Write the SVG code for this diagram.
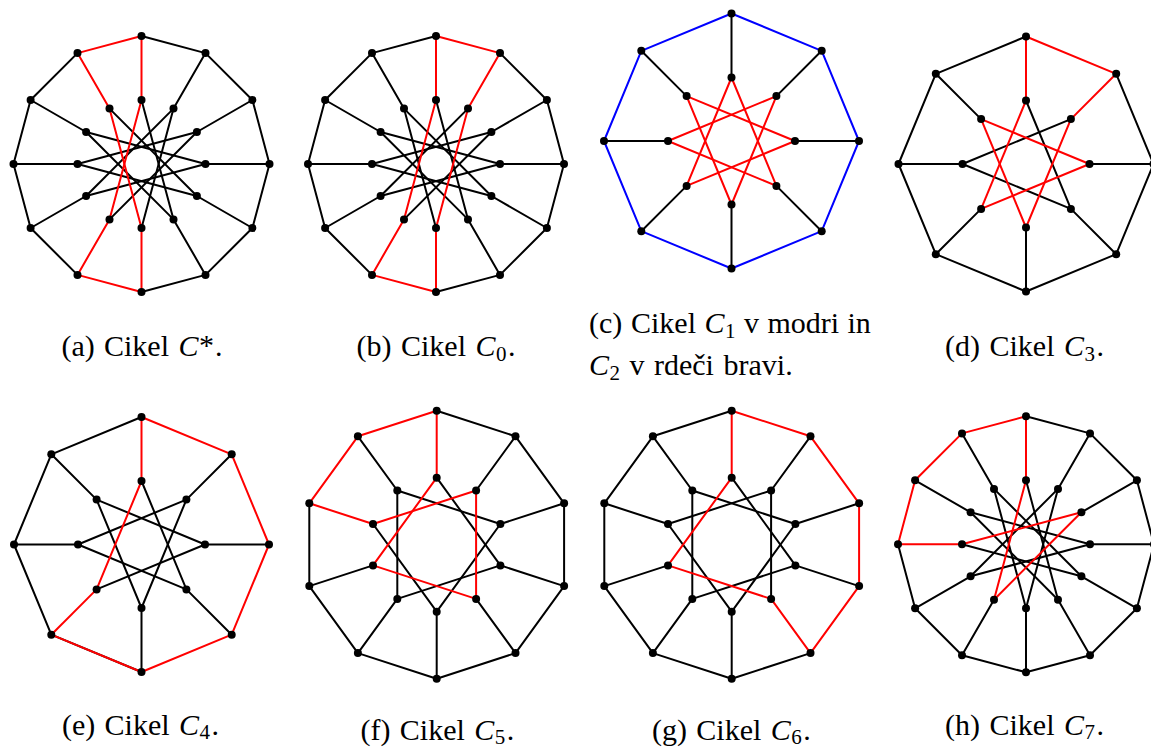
<svg xmlns="http://www.w3.org/2000/svg" width="1151" height="747" viewBox="0 0 1151 747">
<style>
line{stroke-width:2;stroke-linecap:round;fill:none}
.k{stroke:#000}.r{stroke:#f00}.b{stroke:#00f}
circle{fill:#000}
.t{font-family:'Liberation Serif','DejaVu Serif',serif;font-size:30px;fill:#000}
.m{font-style:italic}
.s{font-size:21px}
</style>
<rect width="1151" height="747" fill="#fff"/>

<!-- (a) GP(12,5) -->
<g id="graph-a" transform="translate(141.5,164)">
<g id="a-edges">
<line class="k" x1="0" y1="-128" x2="64" y2="-110.9"/>
<line class="k" x1="64" y1="-110.9" x2="110.9" y2="-64"/>
<line class="k" x1="110.9" y1="-64" x2="128" y2="0"/>
<line class="k" x1="128" y1="0" x2="110.9" y2="64"/>
<line class="k" x1="110.9" y1="64" x2="64" y2="110.9"/>
<line class="k" x1="64" y1="110.9" x2="0" y2="128"/>
<line class="k" x1="-64" y1="110.9" x2="-110.9" y2="64"/>
<line class="k" x1="-110.9" y1="64" x2="-128" y2="0"/>
<line class="k" x1="-128" y1="0" x2="-110.9" y2="-64"/>
<line class="k" x1="-110.9" y1="-64" x2="-64" y2="-110.9"/>
<line class="k" x1="64" y1="-110.9" x2="32" y2="-55.4"/>
<line class="k" x1="110.9" y1="-64" x2="55.4" y2="-32"/>
<line class="k" x1="128" y1="0" x2="64" y2="0"/>
<line class="k" x1="110.9" y1="64" x2="55.4" y2="32"/>
<line class="k" x1="64" y1="110.9" x2="32" y2="55.4"/>
<line class="k" x1="-110.9" y1="64" x2="-55.4" y2="32"/>
<line class="k" x1="-128" y1="0" x2="-64" y2="0"/>
<line class="k" x1="-110.9" y1="-64" x2="-55.4" y2="-32"/>
<line class="k" x1="0" y1="-64" x2="32" y2="55.4"/>
<line class="k" x1="32" y1="-55.4" x2="0" y2="64"/>
<line class="k" x1="55.4" y1="-32" x2="-32" y2="55.4"/>
<line class="k" x1="64" y1="0" x2="-55.4" y2="32"/>
<line class="k" x1="55.4" y1="32" x2="-64" y2="0"/>
<line class="k" x1="32" y1="55.4" x2="-55.4" y2="-32"/>
<line class="k" x1="-55.4" y1="32" x2="32" y2="-55.4"/>
<line class="k" x1="-64" y1="0" x2="55.4" y2="-32"/>
<line class="k" x1="-55.4" y1="-32" x2="64" y2="0"/>
<line class="k" x1="-32" y1="-55.4" x2="55.4" y2="32"/>
<line class="r" x1="0" y1="128" x2="-64" y2="110.9"/>
<line class="r" x1="-64" y1="-110.9" x2="0" y2="-128"/>
<line class="r" x1="0" y1="-128" x2="0" y2="-64"/>
<line class="r" x1="0" y1="128" x2="0" y2="64"/>
<line class="r" x1="-64" y1="110.9" x2="-32" y2="55.4"/>
<line class="r" x1="-64" y1="-110.9" x2="-32" y2="-55.4"/>
<line class="r" x1="0" y1="64" x2="-32" y2="-55.4"/>
<line class="r" x1="-32" y1="55.4" x2="0" y2="-64"/>
</g>
<g id="a-o0"><circle cx="0" cy="-128" r="4"/></g>
<g id="a-o1"><circle cx="64" cy="-110.9" r="4"/></g>
<g id="a-o2"><circle cx="110.9" cy="-64" r="4"/></g>
<g id="a-o3"><circle cx="128" cy="0" r="4"/></g>
<g id="a-o4"><circle cx="110.9" cy="64" r="4"/></g>
<g id="a-o5"><circle cx="64" cy="110.9" r="4"/></g>
<g id="a-o6"><circle cx="0" cy="128" r="4"/></g>
<g id="a-o7"><circle cx="-64" cy="110.9" r="4"/></g>
<g id="a-o8"><circle cx="-110.9" cy="64" r="4"/></g>
<g id="a-o9"><circle cx="-128" cy="0" r="4"/></g>
<g id="a-o10"><circle cx="-110.9" cy="-64" r="4"/></g>
<g id="a-o11"><circle cx="-64" cy="-110.9" r="4"/></g>
<g id="a-i0"><circle cx="0" cy="-64" r="4"/></g>
<g id="a-i1"><circle cx="32" cy="-55.4" r="4"/></g>
<g id="a-i2"><circle cx="55.4" cy="-32" r="4"/></g>
<g id="a-i3"><circle cx="64" cy="0" r="4"/></g>
<g id="a-i4"><circle cx="55.4" cy="32" r="4"/></g>
<g id="a-i5"><circle cx="32" cy="55.4" r="4"/></g>
<g id="a-i6"><circle cx="0" cy="64" r="4"/></g>
<g id="a-i7"><circle cx="-32" cy="55.4" r="4"/></g>
<g id="a-i8"><circle cx="-55.4" cy="32" r="4"/></g>
<g id="a-i9"><circle cx="-64" cy="0" r="4"/></g>
<g id="a-i10"><circle cx="-55.4" cy="-32" r="4"/></g>
<g id="a-i11"><circle cx="-32" cy="-55.4" r="4"/></g>
</g>

<!-- (b) GP(12,5) -->
<g id="graph-b" transform="translate(436,164)">
<g id="b-edges">
<line class="k" x1="64" y1="-110.9" x2="110.9" y2="-64"/>
<line class="k" x1="110.9" y1="-64" x2="128" y2="0"/>
<line class="k" x1="128" y1="0" x2="110.9" y2="64"/>
<line class="k" x1="110.9" y1="64" x2="64" y2="110.9"/>
<line class="k" x1="64" y1="110.9" x2="0" y2="128"/>
<line class="k" x1="-64" y1="110.9" x2="-110.9" y2="64"/>
<line class="k" x1="-110.9" y1="64" x2="-128" y2="0"/>
<line class="k" x1="-128" y1="0" x2="-110.9" y2="-64"/>
<line class="k" x1="-110.9" y1="-64" x2="-64" y2="-110.9"/>
<line class="k" x1="-64" y1="-110.9" x2="0" y2="-128"/>
<line class="k" x1="110.9" y1="-64" x2="55.4" y2="-32"/>
<line class="k" x1="128" y1="0" x2="64" y2="0"/>
<line class="k" x1="110.9" y1="64" x2="55.4" y2="32"/>
<line class="k" x1="64" y1="110.9" x2="32" y2="55.4"/>
<line class="k" x1="-110.9" y1="64" x2="-55.4" y2="32"/>
<line class="k" x1="-128" y1="0" x2="-64" y2="0"/>
<line class="k" x1="-110.9" y1="-64" x2="-55.4" y2="-32"/>
<line class="k" x1="-64" y1="-110.9" x2="-32" y2="-55.4"/>
<line class="k" x1="0" y1="-64" x2="32" y2="55.4"/>
<line class="k" x1="55.4" y1="-32" x2="-32" y2="55.4"/>
<line class="k" x1="64" y1="0" x2="-55.4" y2="32"/>
<line class="k" x1="55.4" y1="32" x2="-64" y2="0"/>
<line class="k" x1="32" y1="55.4" x2="-55.4" y2="-32"/>
<line class="k" x1="0" y1="64" x2="-32" y2="-55.4"/>
<line class="k" x1="-55.4" y1="32" x2="32" y2="-55.4"/>
<line class="k" x1="-64" y1="0" x2="55.4" y2="-32"/>
<line class="k" x1="-55.4" y1="-32" x2="64" y2="0"/>
<line class="k" x1="-32" y1="-55.4" x2="55.4" y2="32"/>
<line class="r" x1="0" y1="-128" x2="64" y2="-110.9"/>
<line class="r" x1="0" y1="-128" x2="0" y2="-64"/>
<line class="r" x1="64" y1="-110.9" x2="32" y2="-55.4"/>
<line class="r" x1="32" y1="-55.4" x2="0" y2="64"/>
<line class="r" x1="-32" y1="55.4" x2="0" y2="-64"/>
<line class="r" x1="-64" y1="110.9" x2="-32" y2="55.4"/>
<line class="r" x1="0" y1="128" x2="-64" y2="110.9"/>
<line class="r" x1="0" y1="128" x2="0" y2="64"/>
</g>
<g id="b-o0"><circle cx="0" cy="-128" r="4"/></g>
<g id="b-o1"><circle cx="64" cy="-110.9" r="4"/></g>
<g id="b-o2"><circle cx="110.9" cy="-64" r="4"/></g>
<g id="b-o3"><circle cx="128" cy="0" r="4"/></g>
<g id="b-o4"><circle cx="110.9" cy="64" r="4"/></g>
<g id="b-o5"><circle cx="64" cy="110.9" r="4"/></g>
<g id="b-o6"><circle cx="0" cy="128" r="4"/></g>
<g id="b-o7"><circle cx="-64" cy="110.9" r="4"/></g>
<g id="b-o8"><circle cx="-110.9" cy="64" r="4"/></g>
<g id="b-o9"><circle cx="-128" cy="0" r="4"/></g>
<g id="b-o10"><circle cx="-110.9" cy="-64" r="4"/></g>
<g id="b-o11"><circle cx="-64" cy="-110.9" r="4"/></g>
<g id="b-i0"><circle cx="0" cy="-64" r="4"/></g>
<g id="b-i1"><circle cx="32" cy="-55.4" r="4"/></g>
<g id="b-i2"><circle cx="55.4" cy="-32" r="4"/></g>
<g id="b-i3"><circle cx="64" cy="0" r="4"/></g>
<g id="b-i4"><circle cx="55.4" cy="32" r="4"/></g>
<g id="b-i5"><circle cx="32" cy="55.4" r="4"/></g>
<g id="b-i6"><circle cx="0" cy="64" r="4"/></g>
<g id="b-i7"><circle cx="-32" cy="55.4" r="4"/></g>
<g id="b-i8"><circle cx="-55.4" cy="32" r="4"/></g>
<g id="b-i9"><circle cx="-64" cy="0" r="4"/></g>
<g id="b-i10"><circle cx="-55.4" cy="-32" r="4"/></g>
<g id="b-i11"><circle cx="-32" cy="-55.4" r="4"/></g>
</g>

<!-- (c) GP(8,3) -->
<g id="graph-c" transform="translate(731.5,141)">
<g id="c-edges">
<line class="k" x1="0" y1="-127.5" x2="0" y2="-63.5"/>
<line class="k" x1="90.2" y1="-90.2" x2="44.9" y2="-44.9"/>
<line class="k" x1="127.5" y1="0" x2="63.5" y2="0"/>
<line class="k" x1="90.2" y1="90.2" x2="44.9" y2="44.9"/>
<line class="k" x1="0" y1="127.5" x2="0" y2="63.5"/>
<line class="k" x1="-90.2" y1="90.2" x2="-44.9" y2="44.9"/>
<line class="k" x1="-127.5" y1="0" x2="-63.5" y2="0"/>
<line class="k" x1="-90.2" y1="-90.2" x2="-44.9" y2="-44.9"/>
<line class="b" x1="0" y1="-127.5" x2="90.2" y2="-90.2"/>
<line class="b" x1="90.2" y1="-90.2" x2="127.5" y2="0"/>
<line class="b" x1="127.5" y1="0" x2="90.2" y2="90.2"/>
<line class="b" x1="90.2" y1="90.2" x2="0" y2="127.5"/>
<line class="b" x1="0" y1="127.5" x2="-90.2" y2="90.2"/>
<line class="b" x1="-90.2" y1="90.2" x2="-127.5" y2="0"/>
<line class="b" x1="-127.5" y1="0" x2="-90.2" y2="-90.2"/>
<line class="b" x1="-90.2" y1="-90.2" x2="0" y2="-127.5"/>
<line class="r" x1="0" y1="-63.5" x2="44.9" y2="44.9"/>
<line class="r" x1="44.9" y1="-44.9" x2="0" y2="63.5"/>
<line class="r" x1="63.5" y1="0" x2="-44.9" y2="44.9"/>
<line class="r" x1="44.9" y1="44.9" x2="-63.5" y2="0"/>
<line class="r" x1="0" y1="63.5" x2="-44.9" y2="-44.9"/>
<line class="r" x1="-44.9" y1="44.9" x2="0" y2="-63.5"/>
<line class="r" x1="-63.5" y1="0" x2="44.9" y2="-44.9"/>
<line class="r" x1="-44.9" y1="-44.9" x2="63.5" y2="0"/>
</g>
<g id="c-o0"><circle cx="0" cy="-127.5" r="4"/></g>
<g id="c-o1"><circle cx="90.2" cy="-90.2" r="4"/></g>
<g id="c-o2"><circle cx="127.5" cy="0" r="4"/></g>
<g id="c-o3"><circle cx="90.2" cy="90.2" r="4"/></g>
<g id="c-o4"><circle cx="0" cy="127.5" r="4"/></g>
<g id="c-o5"><circle cx="-90.2" cy="90.2" r="4"/></g>
<g id="c-o6"><circle cx="-127.5" cy="0" r="4"/></g>
<g id="c-o7"><circle cx="-90.2" cy="-90.2" r="4"/></g>
<g id="c-i0"><circle cx="0" cy="-63.5" r="4"/></g>
<g id="c-i1"><circle cx="44.9" cy="-44.9" r="4"/></g>
<g id="c-i2"><circle cx="63.5" cy="0" r="4"/></g>
<g id="c-i3"><circle cx="44.9" cy="44.9" r="4"/></g>
<g id="c-i4"><circle cx="0" cy="63.5" r="4"/></g>
<g id="c-i5"><circle cx="-44.9" cy="44.9" r="4"/></g>
<g id="c-i6"><circle cx="-63.5" cy="0" r="4"/></g>
<g id="c-i7"><circle cx="-44.9" cy="-44.9" r="4"/></g>
</g>

<!-- (d) GP(8,3) -->
<g id="graph-d" transform="translate(1026,164)">
<g id="d-edges">
<line class="k" x1="90.2" y1="-90.2" x2="127.5" y2="0"/>
<line class="k" x1="127.5" y1="0" x2="90.2" y2="90.2"/>
<line class="k" x1="90.2" y1="90.2" x2="0" y2="127.5"/>
<line class="k" x1="0" y1="127.5" x2="-90.2" y2="90.2"/>
<line class="k" x1="-90.2" y1="90.2" x2="-127.5" y2="0"/>
<line class="k" x1="-127.5" y1="0" x2="-90.2" y2="-90.2"/>
<line class="k" x1="-90.2" y1="-90.2" x2="0" y2="-127.5"/>
<line class="k" x1="127.5" y1="0" x2="63.5" y2="0"/>
<line class="k" x1="90.2" y1="90.2" x2="44.9" y2="44.9"/>
<line class="k" x1="0" y1="127.5" x2="0" y2="63.5"/>
<line class="k" x1="-90.2" y1="90.2" x2="-44.9" y2="44.9"/>
<line class="k" x1="-127.5" y1="0" x2="-63.5" y2="0"/>
<line class="k" x1="-90.2" y1="-90.2" x2="-44.9" y2="-44.9"/>
<line class="k" x1="0" y1="-63.5" x2="44.9" y2="44.9"/>
<line class="k" x1="44.9" y1="44.9" x2="-63.5" y2="0"/>
<line class="k" x1="-63.5" y1="0" x2="44.9" y2="-44.9"/>
<line class="r" x1="0" y1="-127.5" x2="90.2" y2="-90.2"/>
<line class="r" x1="0" y1="-127.5" x2="0" y2="-63.5"/>
<line class="r" x1="90.2" y1="-90.2" x2="44.9" y2="-44.9"/>
<line class="r" x1="44.9" y1="-44.9" x2="0" y2="63.5"/>
<line class="r" x1="0" y1="63.5" x2="-44.9" y2="-44.9"/>
<line class="r" x1="-44.9" y1="-44.9" x2="63.5" y2="0"/>
<line class="r" x1="63.5" y1="0" x2="-44.9" y2="44.9"/>
<line class="r" x1="-44.9" y1="44.9" x2="0" y2="-63.5"/>
</g>
<g id="d-o0"><circle cx="0" cy="-127.5" r="4"/></g>
<g id="d-o1"><circle cx="90.2" cy="-90.2" r="4"/></g>
<g id="d-o2"><circle cx="127.5" cy="0" r="4"/></g>
<g id="d-o3"><circle cx="90.2" cy="90.2" r="4"/></g>
<g id="d-o4"><circle cx="0" cy="127.5" r="4"/></g>
<g id="d-o5"><circle cx="-90.2" cy="90.2" r="4"/></g>
<g id="d-o6"><circle cx="-127.5" cy="0" r="4"/></g>
<g id="d-o7"><circle cx="-90.2" cy="-90.2" r="4"/></g>
<g id="d-i0"><circle cx="0" cy="-63.5" r="4"/></g>
<g id="d-i1"><circle cx="44.9" cy="-44.9" r="4"/></g>
<g id="d-i2"><circle cx="63.5" cy="0" r="4"/></g>
<g id="d-i3"><circle cx="44.9" cy="44.9" r="4"/></g>
<g id="d-i4"><circle cx="0" cy="63.5" r="4"/></g>
<g id="d-i5"><circle cx="-44.9" cy="44.9" r="4"/></g>
<g id="d-i6"><circle cx="-63.5" cy="0" r="4"/></g>
<g id="d-i7"><circle cx="-44.9" cy="-44.9" r="4"/></g>
</g>

<!-- (e) GP(8,3) -->
<g id="graph-e" transform="translate(141.5,544.5)">
<g id="e-edges">
<line class="k" x1="0" y1="127.5" x2="-90.2" y2="90.2"/>
<line class="k" x1="-90.2" y1="90.2" x2="-127.5" y2="0"/>
<line class="k" x1="-127.5" y1="0" x2="-90.2" y2="-90.2"/>
<line class="k" x1="-90.2" y1="-90.2" x2="0" y2="-127.5"/>
<line class="k" x1="90.2" y1="-90.2" x2="44.9" y2="-44.9"/>
<line class="k" x1="127.5" y1="0" x2="63.5" y2="0"/>
<line class="k" x1="90.2" y1="90.2" x2="44.9" y2="44.9"/>
<line class="k" x1="0" y1="127.5" x2="0" y2="63.5"/>
<line class="k" x1="-127.5" y1="0" x2="-63.5" y2="0"/>
<line class="k" x1="-90.2" y1="-90.2" x2="-44.9" y2="-44.9"/>
<line class="k" x1="0" y1="-63.5" x2="44.9" y2="44.9"/>
<line class="k" x1="44.9" y1="-44.9" x2="0" y2="63.5"/>
<line class="k" x1="63.5" y1="0" x2="-44.9" y2="44.9"/>
<line class="k" x1="44.9" y1="44.9" x2="-63.5" y2="0"/>
<line class="k" x1="0" y1="63.5" x2="-44.9" y2="-44.9"/>
<line class="k" x1="-63.5" y1="0" x2="44.9" y2="-44.9"/>
<line class="k" x1="-44.9" y1="-44.9" x2="63.5" y2="0"/>
<line class="r" x1="0" y1="-127.5" x2="90.2" y2="-90.2"/>
<line class="r" x1="90.2" y1="-90.2" x2="127.5" y2="0"/>
<line class="r" x1="127.5" y1="0" x2="90.2" y2="90.2"/>
<line class="r" x1="90.2" y1="90.2" x2="0" y2="127.5"/>
<line class="r" x1="0" y1="127.5" x2="-90.2" y2="90.2"/>
<line class="r" x1="-90.2" y1="90.2" x2="-44.9" y2="44.9"/>
<line class="r" x1="-44.9" y1="44.9" x2="0" y2="-63.5"/>
<line class="r" x1="0" y1="-127.5" x2="0" y2="-63.5"/>
</g>
<g id="e-o0"><circle cx="0" cy="-127.5" r="4"/></g>
<g id="e-o1"><circle cx="90.2" cy="-90.2" r="4"/></g>
<g id="e-o2"><circle cx="127.5" cy="0" r="4"/></g>
<g id="e-o3"><circle cx="90.2" cy="90.2" r="4"/></g>
<g id="e-o4"><circle cx="0" cy="127.5" r="4"/></g>
<g id="e-o5"><circle cx="-90.2" cy="90.2" r="4"/></g>
<g id="e-o6"><circle cx="-127.5" cy="0" r="4"/></g>
<g id="e-o7"><circle cx="-90.2" cy="-90.2" r="4"/></g>
<g id="e-i0"><circle cx="0" cy="-63.5" r="4"/></g>
<g id="e-i1"><circle cx="44.9" cy="-44.9" r="4"/></g>
<g id="e-i2"><circle cx="63.5" cy="0" r="4"/></g>
<g id="e-i3"><circle cx="44.9" cy="44.9" r="4"/></g>
<g id="e-i4"><circle cx="0" cy="63.5" r="4"/></g>
<g id="e-i5"><circle cx="-44.9" cy="44.9" r="4"/></g>
<g id="e-i6"><circle cx="-63.5" cy="0" r="4"/></g>
<g id="e-i7"><circle cx="-44.9" cy="-44.9" r="4"/></g>
</g>

<!-- (f) GP(10,3) -->
<g id="graph-f" transform="translate(436.7,544.7)">
<g id="f-edges">
<line class="k" x1="0" y1="-134" x2="78.8" y2="-108.4"/>
<line class="k" x1="78.8" y1="-108.4" x2="127.4" y2="-41.4"/>
<line class="k" x1="127.4" y1="-41.4" x2="127.4" y2="41.4"/>
<line class="k" x1="127.4" y1="41.4" x2="78.8" y2="108.4"/>
<line class="k" x1="78.8" y1="108.4" x2="0" y2="134"/>
<line class="k" x1="0" y1="134" x2="-78.8" y2="108.4"/>
<line class="k" x1="-78.8" y1="108.4" x2="-127.4" y2="41.4"/>
<line class="k" x1="-127.4" y1="41.4" x2="-127.4" y2="-41.4"/>
<line class="k" x1="78.8" y1="-108.4" x2="39.4" y2="-54.2"/>
<line class="k" x1="127.4" y1="-41.4" x2="63.7" y2="-20.7"/>
<line class="k" x1="127.4" y1="41.4" x2="63.7" y2="20.7"/>
<line class="k" x1="78.8" y1="108.4" x2="39.4" y2="54.2"/>
<line class="k" x1="0" y1="134" x2="0" y2="67"/>
<line class="k" x1="-78.8" y1="108.4" x2="-39.4" y2="54.2"/>
<line class="k" x1="-127.4" y1="41.4" x2="-63.7" y2="20.7"/>
<line class="k" x1="-78.8" y1="-108.4" x2="-39.4" y2="-54.2"/>
<line class="k" x1="0" y1="-67" x2="63.7" y2="20.7"/>
<line class="k" x1="63.7" y1="-20.7" x2="0" y2="67"/>
<line class="k" x1="63.7" y1="20.7" x2="-39.4" y2="54.2"/>
<line class="k" x1="0" y1="67" x2="-63.7" y2="-20.7"/>
<line class="k" x1="-39.4" y1="54.2" x2="-39.4" y2="-54.2"/>
<line class="k" x1="-39.4" y1="-54.2" x2="63.7" y2="-20.7"/>
<line class="r" x1="-78.8" y1="-108.4" x2="0" y2="-134"/>
<line class="r" x1="-127.4" y1="-41.4" x2="-78.8" y2="-108.4"/>
<line class="r" x1="-127.4" y1="-41.4" x2="-63.7" y2="-20.7"/>
<line class="r" x1="-63.7" y1="-20.7" x2="39.4" y2="-54.2"/>
<line class="r" x1="39.4" y1="-54.2" x2="39.4" y2="54.2"/>
<line class="r" x1="39.4" y1="54.2" x2="-63.7" y2="20.7"/>
<line class="r" x1="-63.7" y1="20.7" x2="0" y2="-67"/>
<line class="r" x1="0" y1="-134" x2="0" y2="-67"/>
</g>
<g id="f-o0"><circle cx="0" cy="-134" r="4"/></g>
<g id="f-o1"><circle cx="78.8" cy="-108.4" r="4"/></g>
<g id="f-o2"><circle cx="127.4" cy="-41.4" r="4"/></g>
<g id="f-o3"><circle cx="127.4" cy="41.4" r="4"/></g>
<g id="f-o4"><circle cx="78.8" cy="108.4" r="4"/></g>
<g id="f-o5"><circle cx="0" cy="134" r="4"/></g>
<g id="f-o6"><circle cx="-78.8" cy="108.4" r="4"/></g>
<g id="f-o7"><circle cx="-127.4" cy="41.4" r="4"/></g>
<g id="f-o8"><circle cx="-127.4" cy="-41.4" r="4"/></g>
<g id="f-o9"><circle cx="-78.8" cy="-108.4" r="4"/></g>
<g id="f-i0"><circle cx="0" cy="-67" r="4"/></g>
<g id="f-i1"><circle cx="39.4" cy="-54.2" r="4"/></g>
<g id="f-i2"><circle cx="63.7" cy="-20.7" r="4"/></g>
<g id="f-i3"><circle cx="63.7" cy="20.7" r="4"/></g>
<g id="f-i4"><circle cx="39.4" cy="54.2" r="4"/></g>
<g id="f-i5"><circle cx="0" cy="67" r="4"/></g>
<g id="f-i6"><circle cx="-39.4" cy="54.2" r="4"/></g>
<g id="f-i7"><circle cx="-63.7" cy="20.7" r="4"/></g>
<g id="f-i8"><circle cx="-63.7" cy="-20.7" r="4"/></g>
<g id="f-i9"><circle cx="-39.4" cy="-54.2" r="4"/></g>
</g>

<!-- (g) GP(10,3) -->
<g id="graph-g" transform="translate(731.7,544.7)">
<g id="g-edges">
<line class="k" x1="78.8" y1="108.4" x2="0" y2="134"/>
<line class="k" x1="0" y1="134" x2="-78.8" y2="108.4"/>
<line class="k" x1="-78.8" y1="108.4" x2="-127.4" y2="41.4"/>
<line class="k" x1="-127.4" y1="41.4" x2="-127.4" y2="-41.4"/>
<line class="k" x1="-127.4" y1="-41.4" x2="-78.8" y2="-108.4"/>
<line class="k" x1="-78.8" y1="-108.4" x2="0" y2="-134"/>
<line class="k" x1="78.8" y1="-108.4" x2="39.4" y2="-54.2"/>
<line class="k" x1="127.4" y1="-41.4" x2="63.7" y2="-20.7"/>
<line class="k" x1="127.4" y1="41.4" x2="63.7" y2="20.7"/>
<line class="k" x1="0" y1="134" x2="0" y2="67"/>
<line class="k" x1="-78.8" y1="108.4" x2="-39.4" y2="54.2"/>
<line class="k" x1="-127.4" y1="41.4" x2="-63.7" y2="20.7"/>
<line class="k" x1="-127.4" y1="-41.4" x2="-63.7" y2="-20.7"/>
<line class="k" x1="-78.8" y1="-108.4" x2="-39.4" y2="-54.2"/>
<line class="k" x1="0" y1="-67" x2="63.7" y2="20.7"/>
<line class="k" x1="39.4" y1="-54.2" x2="39.4" y2="54.2"/>
<line class="k" x1="63.7" y1="-20.7" x2="0" y2="67"/>
<line class="k" x1="63.7" y1="20.7" x2="-39.4" y2="54.2"/>
<line class="k" x1="0" y1="67" x2="-63.7" y2="-20.7"/>
<line class="k" x1="-39.4" y1="54.2" x2="-39.4" y2="-54.2"/>
<line class="k" x1="-63.7" y1="-20.7" x2="39.4" y2="-54.2"/>
<line class="k" x1="-39.4" y1="-54.2" x2="63.7" y2="-20.7"/>
<line class="r" x1="0" y1="-134" x2="78.8" y2="-108.4"/>
<line class="r" x1="78.8" y1="-108.4" x2="127.4" y2="-41.4"/>
<line class="r" x1="127.4" y1="-41.4" x2="127.4" y2="41.4"/>
<line class="r" x1="127.4" y1="41.4" x2="78.8" y2="108.4"/>
<line class="r" x1="78.8" y1="108.4" x2="39.4" y2="54.2"/>
<line class="r" x1="39.4" y1="54.2" x2="-63.7" y2="20.7"/>
<line class="r" x1="-63.7" y1="20.7" x2="0" y2="-67"/>
<line class="r" x1="0" y1="-134" x2="0" y2="-67"/>
</g>
<g id="g-o0"><circle cx="0" cy="-134" r="4"/></g>
<g id="g-o1"><circle cx="78.8" cy="-108.4" r="4"/></g>
<g id="g-o2"><circle cx="127.4" cy="-41.4" r="4"/></g>
<g id="g-o3"><circle cx="127.4" cy="41.4" r="4"/></g>
<g id="g-o4"><circle cx="78.8" cy="108.4" r="4"/></g>
<g id="g-o5"><circle cx="0" cy="134" r="4"/></g>
<g id="g-o6"><circle cx="-78.8" cy="108.4" r="4"/></g>
<g id="g-o7"><circle cx="-127.4" cy="41.4" r="4"/></g>
<g id="g-o8"><circle cx="-127.4" cy="-41.4" r="4"/></g>
<g id="g-o9"><circle cx="-78.8" cy="-108.4" r="4"/></g>
<g id="g-i0"><circle cx="0" cy="-67" r="4"/></g>
<g id="g-i1"><circle cx="39.4" cy="-54.2" r="4"/></g>
<g id="g-i2"><circle cx="63.7" cy="-20.7" r="4"/></g>
<g id="g-i3"><circle cx="63.7" cy="20.7" r="4"/></g>
<g id="g-i4"><circle cx="39.4" cy="54.2" r="4"/></g>
<g id="g-i5"><circle cx="0" cy="67" r="4"/></g>
<g id="g-i6"><circle cx="-39.4" cy="54.2" r="4"/></g>
<g id="g-i7"><circle cx="-63.7" cy="20.7" r="4"/></g>
<g id="g-i8"><circle cx="-63.7" cy="-20.7" r="4"/></g>
<g id="g-i9"><circle cx="-39.4" cy="-54.2" r="4"/></g>
</g>

<!-- (h) GP(12,5) -->
<g id="graph-h" transform="translate(1026,544.3)">
<g id="h-edges">
<line class="k" x1="0" y1="-128" x2="64" y2="-110.9"/>
<line class="k" x1="64" y1="-110.9" x2="110.9" y2="-64"/>
<line class="k" x1="110.9" y1="-64" x2="128" y2="0"/>
<line class="k" x1="128" y1="0" x2="110.9" y2="64"/>
<line class="k" x1="110.9" y1="64" x2="64" y2="110.9"/>
<line class="k" x1="64" y1="110.9" x2="0" y2="128"/>
<line class="k" x1="0" y1="128" x2="-64" y2="110.9"/>
<line class="k" x1="-64" y1="110.9" x2="-110.9" y2="64"/>
<line class="k" x1="-110.9" y1="64" x2="-128" y2="0"/>
<line class="k" x1="64" y1="-110.9" x2="32" y2="-55.4"/>
<line class="k" x1="110.9" y1="-64" x2="55.4" y2="-32"/>
<line class="k" x1="128" y1="0" x2="64" y2="0"/>
<line class="k" x1="110.9" y1="64" x2="55.4" y2="32"/>
<line class="k" x1="64" y1="110.9" x2="32" y2="55.4"/>
<line class="k" x1="0" y1="128" x2="0" y2="64"/>
<line class="k" x1="-64" y1="110.9" x2="-32" y2="55.4"/>
<line class="k" x1="-110.9" y1="64" x2="-55.4" y2="32"/>
<line class="k" x1="-110.9" y1="-64" x2="-55.4" y2="-32"/>
<line class="k" x1="-64" y1="-110.9" x2="-32" y2="-55.4"/>
<line class="k" x1="0" y1="-64" x2="32" y2="55.4"/>
<line class="k" x1="32" y1="-55.4" x2="0" y2="64"/>
<line class="k" x1="64" y1="0" x2="-55.4" y2="32"/>
<line class="k" x1="55.4" y1="32" x2="-64" y2="0"/>
<line class="k" x1="32" y1="55.4" x2="-55.4" y2="-32"/>
<line class="k" x1="0" y1="64" x2="-32" y2="-55.4"/>
<line class="k" x1="-55.4" y1="32" x2="32" y2="-55.4"/>
<line class="k" x1="-55.4" y1="-32" x2="64" y2="0"/>
<line class="k" x1="-32" y1="-55.4" x2="55.4" y2="32"/>
<line class="r" x1="-64" y1="-110.9" x2="0" y2="-128"/>
<line class="r" x1="-110.9" y1="-64" x2="-64" y2="-110.9"/>
<line class="r" x1="-128" y1="0" x2="-110.9" y2="-64"/>
<line class="r" x1="-128" y1="0" x2="-64" y2="0"/>
<line class="r" x1="-64" y1="0" x2="55.4" y2="-32"/>
<line class="r" x1="55.4" y1="-32" x2="-32" y2="55.4"/>
<line class="r" x1="-32" y1="55.4" x2="0" y2="-64"/>
<line class="r" x1="0" y1="-128" x2="0" y2="-64"/>
</g>
<g id="h-o0"><circle cx="0" cy="-128" r="4"/></g>
<g id="h-o1"><circle cx="64" cy="-110.9" r="4"/></g>
<g id="h-o2"><circle cx="110.9" cy="-64" r="4"/></g>
<g id="h-o3"><circle cx="128" cy="0" r="4"/></g>
<g id="h-o4"><circle cx="110.9" cy="64" r="4"/></g>
<g id="h-o5"><circle cx="64" cy="110.9" r="4"/></g>
<g id="h-o6"><circle cx="0" cy="128" r="4"/></g>
<g id="h-o7"><circle cx="-64" cy="110.9" r="4"/></g>
<g id="h-o8"><circle cx="-110.9" cy="64" r="4"/></g>
<g id="h-o9"><circle cx="-128" cy="0" r="4"/></g>
<g id="h-o10"><circle cx="-110.9" cy="-64" r="4"/></g>
<g id="h-o11"><circle cx="-64" cy="-110.9" r="4"/></g>
<g id="h-i0"><circle cx="0" cy="-64" r="4"/></g>
<g id="h-i1"><circle cx="32" cy="-55.4" r="4"/></g>
<g id="h-i2"><circle cx="55.4" cy="-32" r="4"/></g>
<g id="h-i3"><circle cx="64" cy="0" r="4"/></g>
<g id="h-i4"><circle cx="55.4" cy="32" r="4"/></g>
<g id="h-i5"><circle cx="32" cy="55.4" r="4"/></g>
<g id="h-i6"><circle cx="0" cy="64" r="4"/></g>
<g id="h-i7"><circle cx="-32" cy="55.4" r="4"/></g>
<g id="h-i8"><circle cx="-55.4" cy="32" r="4"/></g>
<g id="h-i9"><circle cx="-64" cy="0" r="4"/></g>
<g id="h-i10"><circle cx="-55.4" cy="-32" r="4"/></g>
<g id="h-i11"><circle cx="-32" cy="-55.4" r="4"/></g>
</g>

<!-- captions -->
<g id="captions">
<text id="cap-a" class="t"><tspan x="61.5" y="356">(a)</tspan><tspan x="104" y="356">Cikel</tspan><tspan class="m" x="178.5" y="356">C</tspan><tspan x="199" y="355">*</tspan><tspan x="215" y="356">.</tspan></text>
<text id="cap-b" class="t"><tspan x="356.5" y="356">(b)</tspan><tspan x="401" y="356">Cikel</tspan><tspan class="m" x="475.5" y="356">C</tspan><tspan class="s" x="496" y="360.5">0</tspan><tspan x="508" y="356">.</tspan></text>
<text id="cap-c1" class="t"><tspan x="589" y="333">(c)</tspan><tspan x="631" y="333">Cikel</tspan><tspan class="m" x="704.5" y="333">C</tspan><tspan class="s" x="725" y="337.5">1</tspan><tspan x="744" y="333">v</tspan><tspan x="767.5" y="333">modri</tspan><tspan x="847.5" y="333">in</tspan></text>
<text id="cap-c2" class="t"><tspan class="m" x="589" y="375">C</tspan><tspan class="s" x="609.5" y="379.5">2</tspan><tspan x="629.5" y="375">v</tspan><tspan x="654" y="375">rdeči</tspan><tspan x="723.5" y="375">bravi.</tspan></text>
<text id="cap-d" class="t"><tspan x="945" y="356">(d)</tspan><tspan x="989.5" y="356">Cikel</tspan><tspan class="m" x="1064" y="356">C</tspan><tspan class="s" x="1084.5" y="360.5">3</tspan><tspan x="1096.5" y="356">.</tspan></text>
<text id="cap-e" class="t"><tspan x="62" y="735">(e)</tspan><tspan x="104.6" y="735">Cikel</tspan><tspan class="m" x="179" y="735">C</tspan><tspan class="s" x="199.5" y="739">4</tspan><tspan x="211.5" y="735">.</tspan></text>
<text id="cap-f" class="t"><tspan x="360.5" y="740">(f)</tspan><tspan x="399.8" y="740">Cikel</tspan><tspan class="m" x="474.3" y="740">C</tspan><tspan class="s" x="494.8" y="743.5">5</tspan><tspan x="506.8" y="740">.</tspan></text>
<text id="cap-g" class="t"><tspan x="652" y="740">(g)</tspan><tspan x="696.3" y="740">Cikel</tspan><tspan class="m" x="770.8" y="740">C</tspan><tspan class="s" x="791.3" y="743.5">6</tspan><tspan x="803.3" y="740">.</tspan></text>
<text id="cap-h" class="t"><tspan x="945" y="735">(h)</tspan><tspan x="989.5" y="735">Cikel</tspan><tspan class="m" x="1064" y="735">C</tspan><tspan class="s" x="1084.5" y="739">7</tspan><tspan x="1096.5" y="735">.</tspan></text>
</g>
</svg>
